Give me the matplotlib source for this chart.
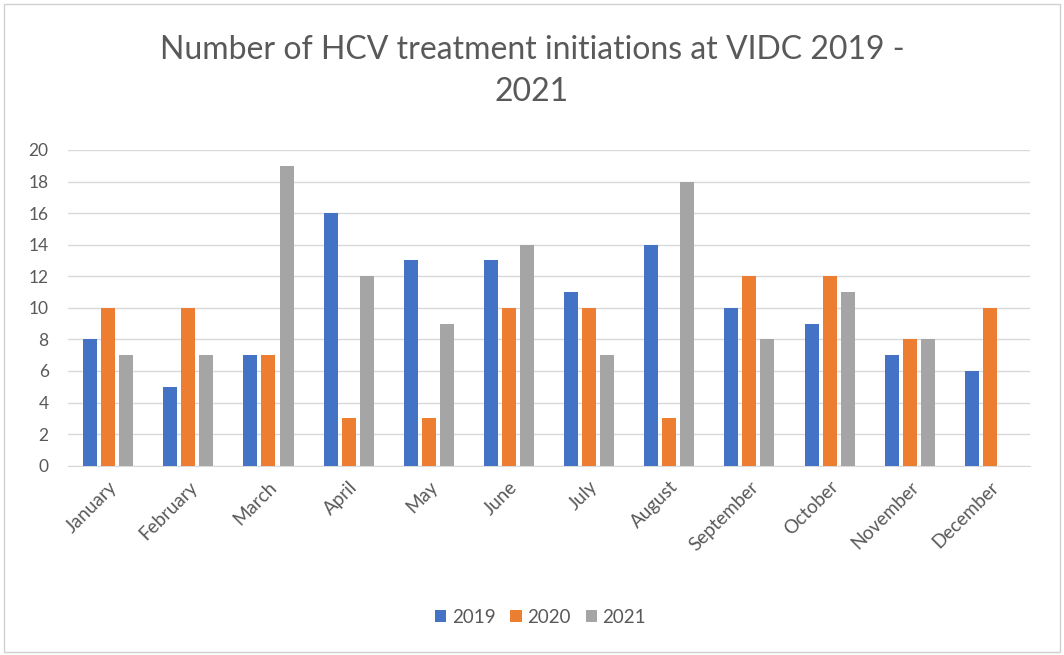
import matplotlib
matplotlib.use("Agg")
import matplotlib.pyplot as plt
import numpy as np
from matplotlib.patches import Rectangle

months = ["January", "February", "March", "April", "May", "June",
          "July", "August", "September", "October", "November", "December"]
vals_2019 = [8, 5, 7, 16, 13, 13, 11, 14, 10, 9, 7, 6]
vals_2020 = [10, 10, 7, 3, 3, 10, 10, 3, 12, 12, 8, 10]
vals_2021 = [7, 7, 19, 12, 9, 14, 7, 18, 8, 11, 8, 0]
years = ["2019", "2020", "2021"]
colors = ["#4472C4", "#ED7D31", "#A5A5A5"]

plt.rcParams["font.family"] = ["Lato", "DejaVu Sans"]
text_col = "#595959"

fig = plt.figure(figsize=(10.64, 6.55), dpi=100)
fig.patches.append(Rectangle((0.004, 0.004), 0.992, 0.99, transform=fig.transFigure,
                             fill=False, edgecolor="#D0D0D0", linewidth=1))
ax = fig.add_axes([0.064, 0.289, 0.904, 0.482])

x = np.arange(len(months))
w = 0.175
step = 0.225
for k, (vals, lab, c) in enumerate(zip([vals_2019, vals_2020, vals_2021], years, colors)):
    ax.bar(x + (k - 1) * step, vals, width=w, color=c, label=lab, zorder=3)

ax.set_xlim(-0.5, len(months) - 0.5)
ax.set_ylim(0, 20)
ax.set_yticks(range(0, 21, 2))
ax.yaxis.grid(True, color="#D9D9D9", linewidth=1, zorder=0)
for s in ["top", "right", "left"]:
    ax.spines[s].set_visible(False)
ax.spines["bottom"].set_color("#D9D9D9")
ax.tick_params(axis="both", length=0, colors=text_col, labelsize=12.5)
ax.tick_params(axis="y", pad=14)
ax.tick_params(axis="x", pad=9, labelsize=13.5)
ax.set_xticks(x)
ax.set_xticklabels(months, rotation=45, ha="right", rotation_mode="anchor", color=text_col)

fig.text(0.5, 0.892, "Number of HCV treatment initiations at VIDC 2019 -\n2021",
         ha="center", va="center", fontsize=23, color=text_col, linespacing=1.5)

fig.legend(loc="center", bbox_to_anchor=(0.508, 0.058), ncol=3, frameon=False,
           fontsize=13.5, handlelength=0.6, handleheight=0.6, handletextpad=0.3,
           columnspacing=0.8, labelcolor=text_col)

fig.savefig("out.png", dpi=100)
